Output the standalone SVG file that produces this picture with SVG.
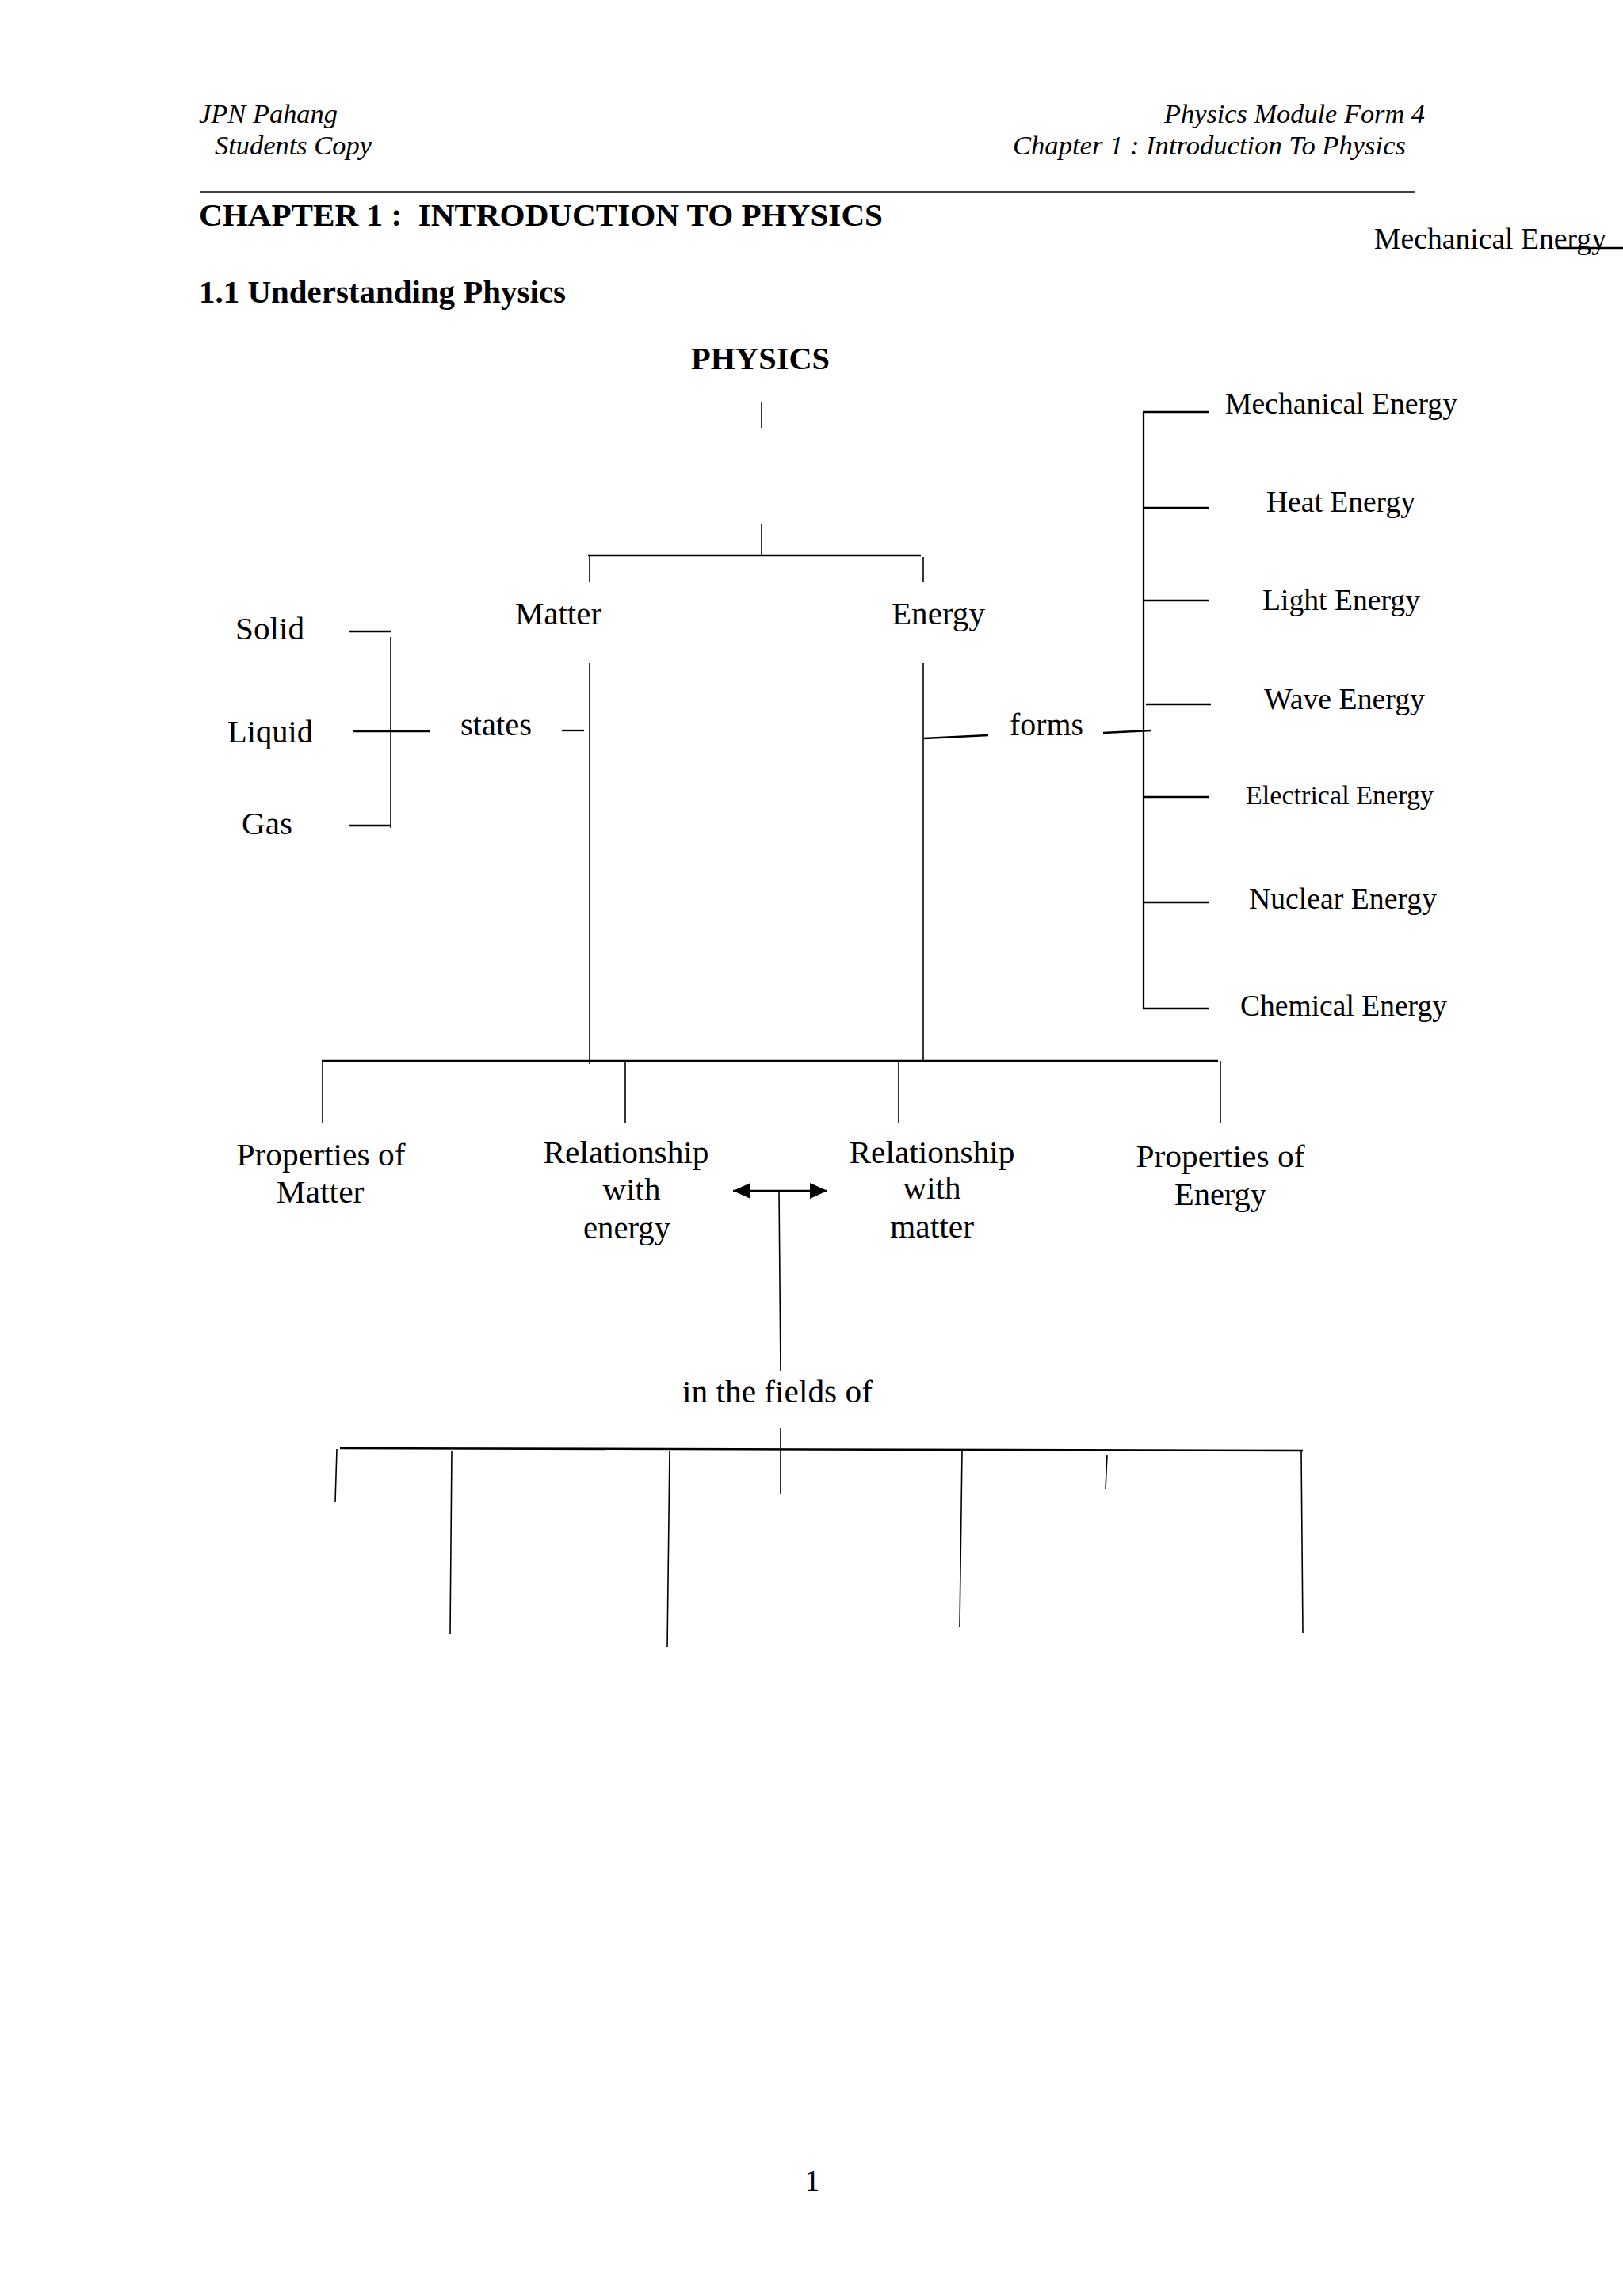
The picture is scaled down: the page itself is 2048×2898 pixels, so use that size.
<svg xmlns="http://www.w3.org/2000/svg" width="2048" height="2898" viewBox="0 0 2048 2898">
<defs>
<style>
text{font-family:"Liberation Serif","Times New Roman",serif;fill:#000}
.hd{font-style:italic;font-size:34px}
.bd{font-weight:bold;font-size:40px}
.lb{font-size:40px}
.en{font-size:37px}
.ln{stroke:#000;stroke-width:1.6;fill:none}
.bus{stroke:#000;stroke-width:2.6;fill:none}
.tk{stroke:#000;stroke-width:2.3;fill:none}
</style>
<marker id="ah" viewBox="0 0 22 20" refX="22" refY="10" markerWidth="22" markerHeight="20" markerUnits="userSpaceOnUse" orient="auto-start-reverse">
<path d="M0,0 L22,10 L0,20 Z" fill="#000"/>
</marker>
</defs>
<rect width="2048" height="2898" fill="#fff"/>

<g id="header">
<text class="hd" x="251" y="155" textLength="175" lengthAdjust="spacingAndGlyphs">JPN Pahang</text>
<text class="hd" x="271" y="195" textLength="198" lengthAdjust="spacingAndGlyphs">Students Copy</text>
<text class="hd" x="1469" y="155" textLength="329" lengthAdjust="spacingAndGlyphs">Physics Module Form 4</text>
<text class="hd" x="1278" y="195" textLength="496" lengthAdjust="spacingAndGlyphs">Chapter 1 : Introduction To Physics</text>
<line x1="252" y1="242" x2="1785" y2="242" stroke="#000" stroke-width="1.6"/>
<text class="bd" x="251" y="285" xml:space="preserve" textLength="863" lengthAdjust="spacingAndGlyphs">CHAPTER 1 :  INTRODUCTION TO PHYSICS</text>
<text class="bd" x="251" y="382" textLength="463" lengthAdjust="spacingAndGlyphs">1.1 Understanding Physics</text>
<text class="en" x="1734" y="314" textLength="293" lengthAdjust="spacingAndGlyphs">Mechanical Energy</text>
<line x1="1965" y1="313" x2="2048" y2="313" stroke="#000" stroke-width="2.3"/>
</g>

<g id="node-physics"><text class="bd" x="872" y="466" textLength="175" lengthAdjust="spacingAndGlyphs">PHYSICS</text></g>
<g id="node-matter"><text class="lb" x="650" y="788" textLength="109" lengthAdjust="spacingAndGlyphs">Matter</text></g>
<g id="node-energy"><text class="lb" x="1125" y="788" textLength="118" lengthAdjust="spacingAndGlyphs">Energy</text></g>
<g id="node-solid"><text class="lb" x="297" y="807" textLength="87" lengthAdjust="spacingAndGlyphs">Solid</text></g>
<g id="node-liquid"><text class="lb" x="287" y="937" textLength="108" lengthAdjust="spacingAndGlyphs">Liquid</text></g>
<g id="node-gas"><text class="lb" x="305" y="1053" textLength="64" lengthAdjust="spacingAndGlyphs">Gas</text></g>
<g id="node-states"><text class="lb" x="581" y="928" textLength="90" lengthAdjust="spacingAndGlyphs">states</text></g>
<g id="node-forms"><text class="lb" x="1274" y="928" textLength="93" lengthAdjust="spacingAndGlyphs">forms</text></g>

<g id="node-mechanical"><text class="en" x="1546" y="522" textLength="293" lengthAdjust="spacingAndGlyphs">Mechanical Energy</text></g>
<g id="node-heat"><text class="en" x="1598" y="646" textLength="188" lengthAdjust="spacingAndGlyphs">Heat Energy</text></g>
<g id="node-light"><text class="en" x="1593" y="770" textLength="199" lengthAdjust="spacingAndGlyphs">Light Energy</text></g>
<g id="node-wave"><text class="en" x="1595" y="895" textLength="203" lengthAdjust="spacingAndGlyphs">Wave Energy</text></g>
<g id="node-electrical"><text class="en" x="1572" y="1015" style="font-size:33.5px" textLength="237" lengthAdjust="spacingAndGlyphs">Electrical Energy</text></g>
<g id="node-nuclear"><text class="en" x="1576" y="1147" textLength="237" lengthAdjust="spacingAndGlyphs">Nuclear Energy</text></g>
<g id="node-chemical"><text class="en" x="1565" y="1282" textLength="261" lengthAdjust="spacingAndGlyphs">Chemical Energy</text></g>

<g id="node-prop-matter" text-anchor="middle">
<text class="lb" x="405" y="1471" style="font-size:41px" textLength="213" lengthAdjust="spacingAndGlyphs">Properties of</text>
<text class="lb" x="404" y="1518" style="font-size:41px" textLength="111" lengthAdjust="spacingAndGlyphs">Matter</text>
</g>
<g id="node-rel-energy" text-anchor="middle">
<text class="lb" x="790" y="1468" style="font-size:41px" textLength="209" lengthAdjust="spacingAndGlyphs">Relationship</text>
<text class="lb" x="797" y="1515" style="font-size:41px" textLength="73" lengthAdjust="spacingAndGlyphs">with</text>
<text class="lb" x="791" y="1563" style="font-size:41px" textLength="110" lengthAdjust="spacingAndGlyphs">energy</text>
</g>
<g id="node-rel-matter" text-anchor="middle">
<text class="lb" x="1176" y="1468" style="font-size:41px" textLength="209" lengthAdjust="spacingAndGlyphs">Relationship</text>
<text class="lb" x="1176" y="1513" style="font-size:41px" textLength="73" lengthAdjust="spacingAndGlyphs">with</text>
<text class="lb" x="1176" y="1562" style="font-size:41px" textLength="106" lengthAdjust="spacingAndGlyphs">matter</text>
</g>
<g id="node-prop-energy" text-anchor="middle">
<text class="lb" x="1540" y="1473" style="font-size:41px" textLength="213" lengthAdjust="spacingAndGlyphs">Properties of</text>
<text class="lb" x="1540" y="1521" style="font-size:41px" textLength="116" lengthAdjust="spacingAndGlyphs">Energy</text>
</g>
<g id="node-fields"><text class="lb" x="861" y="1770" style="font-size:41px" textLength="240" lengthAdjust="spacingAndGlyphs">in the fields of</text></g>

<g id="node-page"><text class="lb" x="1025" y="2765" text-anchor="middle" style="font-size:37px">1</text></g>

<g id="connectors">
<line class="ln" x1="961" y1="508" x2="961" y2="540"/>
<line class="ln" x1="961" y1="662" x2="961" y2="701"/>
<line class="bus" x1="742" y1="701" x2="1162" y2="701"/>
<line class="ln" x1="744" y1="702" x2="744" y2="735"/>
<line class="ln" x1="1165" y1="703" x2="1165" y2="735"/>
<line class="tk" x1="441" y1="797" x2="493" y2="797"/>
<line class="ln" x1="493" y1="804" x2="493" y2="1045"/>
<line class="tk" x1="445" y1="923" x2="542" y2="923"/>
<line class="tk" x1="441" y1="1042" x2="493" y2="1042"/>
<line class="tk" x1="709" y1="922" x2="737" y2="922"/>
<line class="ln" x1="744" y1="837" x2="744" y2="1343"/>
<line class="ln" x1="1165" y1="837" x2="1165" y2="1339"/>
<line class="tk" x1="1166" y1="932" x2="1247" y2="928"/>
<line class="tk" x1="1392" y1="925" x2="1453" y2="922"/>
<line class="tk" x1="1443" y1="520" x2="1443" y2="1274"/>
<line class="tk" x1="1442" y1="520" x2="1525" y2="520"/>
<line class="tk" x1="1443" y1="641" x2="1525" y2="641"/>
<line class="tk" x1="1443" y1="758" x2="1525" y2="758"/>
<line class="tk" x1="1446" y1="889" x2="1528" y2="889"/>
<line class="tk" x1="1443" y1="1006" x2="1525" y2="1006"/>
<line class="tk" x1="1443" y1="1139" x2="1525" y2="1139"/>
<line class="tk" x1="1442" y1="1273" x2="1525" y2="1273"/>
<line class="bus" x1="406" y1="1339" x2="1537" y2="1339"/>
<line class="ln" x1="407" y1="1339" x2="407" y2="1417"/>
<line class="ln" x1="789" y1="1339" x2="789" y2="1417"/>
<line class="ln" x1="1134" y1="1339" x2="1134" y2="1417"/>
<line class="ln" x1="1540" y1="1339" x2="1540" y2="1417"/>
<line class="tk" x1="925" y1="1503" x2="1044" y2="1503" marker-start="url(#ah)" marker-end="url(#ah)"/>
<line class="ln" x1="983" y1="1503" x2="985" y2="1731"/>
<line class="ln" x1="985" y1="1802" x2="985" y2="1886"/>
<line class="bus" x1="429" y1="1828" x2="1644" y2="1831"/>
<line class="ln" x1="425" y1="1829" x2="423" y2="1896"/>
<line class="ln" x1="570" y1="1831" x2="568" y2="2062"/>
<line class="ln" x1="845" y1="1831" x2="842" y2="2079"/>
<line class="ln" x1="1214" y1="1831" x2="1211" y2="2053"/>
<line class="ln" x1="1397" y1="1836" x2="1395" y2="1880"/>
<line class="ln" x1="1642" y1="1832" x2="1644" y2="2061"/>
</g>
</svg>
